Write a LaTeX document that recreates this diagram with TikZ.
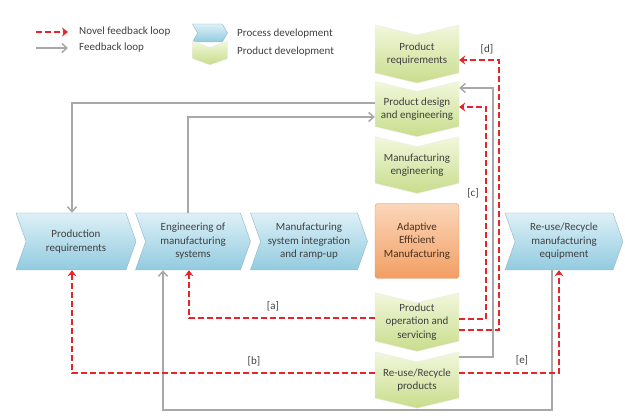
\documentclass[tikz,border=0pt]{standalone}
\usepackage{fontspec}
\setmainfont{Carlito}
\usetikzlibrary{shapes.symbols,shadings,arrows.meta}

\definecolor{txtcol}{HTML}{404040}
\definecolor{proctop}{HTML}{DDF0F7}
\definecolor{procbot}{HTML}{92CBE0}
\definecolor{prodtop}{HTML}{F2F7DC}
\definecolor{prodbot}{HTML}{C8DD8C}
\definecolor{aemtop}{HTML}{FBD7BA}
\definecolor{aembot}{HTML}{F29E62}
\definecolor{novred}{HTML}{E5252A}
\definecolor{fbgray}{HTML}{A8A8A8}

\begin{document}
\begin{tikzpicture}[x=1pt,y=-1pt,
    font=\fontsize{11}{13.5}\selectfont,text=txtcol,
    procbox/.style={signal,signal from=west,signal to=east,signal pointer angle=141,
        draw=procbot!70!gray,thin,top color=proctop,bottom color=procbot,
        align=center,minimum height=57pt,inner sep=1pt},
    prodbox/.style={signal,signal from=north,signal to=south,signal pointer angle=153,
        draw=white!85!gray,thin,top color=prodtop,bottom color=prodbot,
        align=center,minimum width=84pt,minimum height=53pt,inner sep=1pt},
    fb/.style={draw=fbgray,line width=1.5pt,-{Straight Barb[length=5pt,width=9pt]}},
    nfb/.style={draw=novred,line width=2.4pt,dash pattern=on 6pt off 3pt,
        -{Stealth[length=6pt,width=9pt,inset=2pt]}},
    tag/.style={inner sep=1pt}]
\useasboundingbox (0,0) rectangle (625,419);

% legend
\coordinate (lgnova) at (36,32);
\coordinate (lgnovb) at (68,32);
\coordinate (lgfba) at (36,48);
\coordinate (lgfbb) at (68,48);
\draw[nfb] (lgnova) -- (lgnovb);
\draw[fb] (lgfba) -- (lgfbb);
\node[anchor=west,inner sep=0] (lgnovtxt) at (79,32) {Novel feedback loop};
\node[anchor=west,inner sep=0] (lgfbtxt) at (79,48) {Feedback loop};
\node[procbox,minimum width=35pt,minimum height=18pt,signal pointer angle=120] (lgproc) at (210,33) {};
\node[prodbox,minimum width=35pt,minimum height=12pt,signal pointer angle=140] (lgprod) at (210,53) {};
\node[anchor=west,inner sep=0] (lgproctxt) at (237,34) {Process development};
\node[anchor=west,inner sep=0] (lgprodtxt) at (237,52) {Product development};

% process development chain
\node[procbox,minimum width=120pt] (prodreq) at (76,241.5) {Production\\requirements};
\node[procbox,minimum width=115pt] (engsys) at (193,241.5) {Engineering of\\manufacturing\\systems};
\node[procbox,minimum width=117pt] (msi) at (309,241.5) {Manufacturing\\system integration\\and ramp-up};
\node[procbox,minimum width=118pt] (reuseeq) at (564,241.5) {Re-use/Recycle\\manufacturing\\equipment};

% product development chain
\node[prodbox] (pr) at (417,54) {Product\\requirements};
\node[prodbox] (pde) at (417,109) {Product design\\and engineering};
\node[prodbox] (me) at (417,165) {Manufacturing\\engineering};
\node[draw=aembot!80!gray,thin,rounded corners=3pt,top color=aemtop,bottom color=aembot,
    minimum width=84pt,minimum height=75pt,align=center,text=black!70!aembot] (aem) at (417,241) {Adaptive\\Efficient\\Manufacturing};
\node[prodbox] (pos) at (417,322) {Product\\operation and\\servicing};
\node[prodbox] (rrp) at (417,380) {Re-use/Recycle\\products};

% feedback loops
\draw[fb] (pde.west |- 0,103) -| ([xshift=-4pt]prodreq.north);
\draw[fb] ([xshift=-5pt]engsys.north) |- (pde.west |- 0,117);
\draw[fb] (rrp.east |- 0,357) -| (493,88) -- (pde.east |- 0,88);
\draw[fb] ([xshift=-12pt]reuseeq.south) -- ++(0,140) -| ([xshift=-30pt]engsys.south);

% novel feedback loops
\draw[nfb] (pos.west |- 0,318) -| ([xshift=-4pt]engsys.south);
\draw[nfb] (rrp.west |- 0,373) -| ([xshift=-4pt]prodreq.south);
\draw[nfb] (pos.east |- 0,319) -| (486,107) -- (pde.east |- 0,107);
\draw[nfb] (pos.east |- 0,330) -| (499,60) -- (pr.east |- 0,60);
\draw[nfb] (rrp.east |- 0,373) -| ([xshift=-5pt]reuseeq.south);

% loop tags
\node[tag] (taga) at (273,306) {[a]};
\node[tag] (tagb) at (254,361) {[b]};
\node[tag] (tagc) at (473,193) {[c]};
\node[tag] (tagd) at (487,49) {[d]};
\node[tag] (tage) at (522,360) {[e]};
\end{tikzpicture}
\end{document}
